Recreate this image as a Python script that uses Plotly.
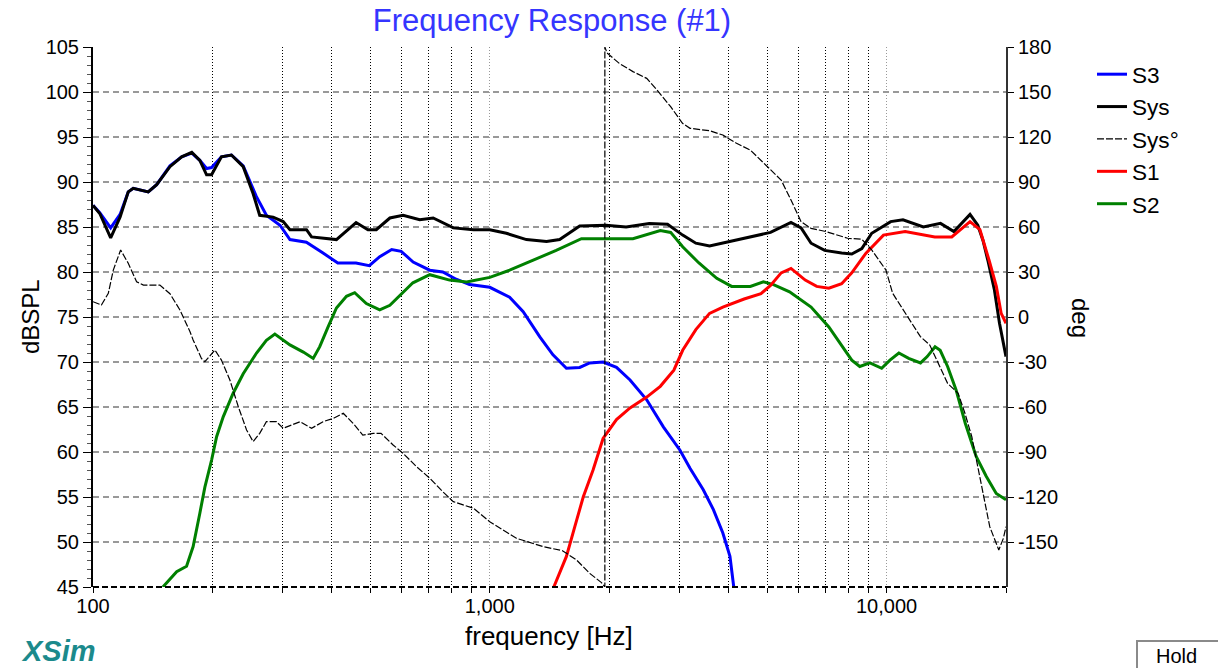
import plotly.graph_objects as go

# ---------------- data ----------------
sys_f = [100, 104, 110.8, 117, 122.7, 126.3, 137.8, 144.7, 156.3, 167.3, 177.4, 185.9, 193.3, 199,
         210.7, 223.3, 239.1, 253.3, 263.1, 284.4, 301.5, 313.6, 345.2, 355.5, 410.7, 460.3, 493,
         517.6, 560, 604.7, 665.9, 720, 809.4, 909.6, 1000, 1101, 1237, 1390, 1500, 1685, 1963,
         2206, 2523, 2805, 3063, 3306, 3580, 4030, 4536, 5100, 5743, 6090, 6453, 6981, 7706, 8172,
         8663, 9175, 10242, 11000, 12380, 13676, 14785, 16230, 16980, 17500, 18000, 18700, 19260, 20000]
sys_db = [87.4, 86.5, 83.8, 86.1, 88.9, 89.3, 88.9, 89.7, 91.7, 92.8, 93.3, 92.4, 90.8, 90.8,
          92.8, 93.0, 91.7, 88.7, 86.3, 86.1, 85.6, 84.7, 84.7, 83.9, 83.6, 85.5, 84.7,
          84.7, 86.0, 86.3, 85.8, 86.0, 84.9, 84.7, 84.7, 84.3, 83.6, 83.4, 83.6, 85.1, 85.2,
          85.0, 85.4, 85.3, 84.1, 83.2, 82.9, 83.4, 83.9, 84.4, 85.5, 84.9, 83.2, 82.4, 82.1, 82.0,
          82.6, 84.3, 85.6, 85.8, 85.0, 85.4, 84.5, 86.4, 85.2, 83.5, 81.3, 78.0, 74.3, 70.6]

s3_f = [100, 104, 110.8, 117, 122.7, 126.3, 137.8, 144.7, 156.3, 167.3, 177.4, 185.9, 193.3, 199,
        210.7, 223.3, 239.1, 258, 273.5, 296, 313.6, 345, 380, 414, 460, 497, 528, 566, 598, 641,
        706, 761, 823, 889, 1000, 1122, 1214, 1337, 1443, 1560, 1685, 1786, 1930, 2086, 2257,
        2486, 2738, 3016, 3196, 3452, 3661, 3867, 4030, 4109, 4120]
s3_db = [87.4, 86.6, 84.9, 86.4, 88.9, 89.3, 88.9, 89.7, 91.8, 92.8, 93.2, 92.4, 91.5, 91.6,
         92.8, 93.0, 91.8, 88.4, 86.3, 85.2, 83.6, 83.3, 82.1, 81.0, 81.0, 80.7, 81.7, 82.5, 82.3, 81.1,
         80.2, 80.0, 79.2, 78.6, 78.3, 77.2, 75.6, 72.8, 70.8, 69.3, 69.4, 69.9, 70.0, 69.4, 68.0,
         65.8, 62.8, 60.2, 58.2, 55.8, 53.6, 51.0, 48.4, 45.4, 45.0]

s1_f = [1450, 1560, 1638, 1720, 1821, 1930, 2086, 2257, 2486, 2690, 2910, 3063, 3306, 3580, 3867,
        4376, 4825, 5100, 5424, 5743, 6238, 6666, 7153, 7706, 8172, 8875, 9822, 11140, 13230,
        14600, 16230, 17190, 18130, 18910, 19450, 20000]
s1_db = [45.0, 48.4, 51.7, 55.0, 58.0, 61.5, 63.6, 64.9, 66.1, 67.3, 69.1, 71.3, 73.6, 75.4, 76.1,
         77.0, 77.6, 78.5, 79.9, 80.4, 79.1, 78.4, 78.2, 78.7, 79.9, 82.1, 84.1, 84.5, 83.9,
         83.9, 85.6, 84.7, 81.3, 78.4, 75.4, 74.3]

s2_f = [150, 162.5, 172.1, 178.8, 185.9, 191.4, 199, 204.9, 212.9, 225.4, 239.1, 258.3, 273.5,
        287.3, 313.6, 338.9, 358.9, 372.8, 391.3, 410.7, 435.3, 456.6, 488.6, 528, 560, 582,
        604.7, 640, 706, 792, 874, 1000, 1122, 1290, 1470, 1702, 1963, 2295, 2690, 2857, 3063,
        3366, 3733, 4070, 4536, 4893, 5190, 5695, 6453, 7153, 8172, 8560, 9080, 9720, 10200,
        10740, 11370, 12180, 12660, 13250, 13650, 14250, 14970, 15790, 16820, 17830, 18900, 20000]
s2_db = [45.0, 46.7, 47.3, 49.5, 53.2, 56.1, 59.1, 61.7, 63.9, 66.5, 68.7, 71.0, 72.4,
         73.1, 71.9, 71.1, 70.4, 71.7, 73.9, 76.0, 77.3, 77.7, 76.5, 75.8, 76.3, 77.0,
         77.8, 78.8, 79.7, 79.1, 78.9, 79.4, 80.2, 81.3, 82.4, 83.7, 83.7, 83.7, 84.6, 84.4, 82.8,
         81.0, 79.3, 78.4, 78.4, 78.9, 78.6, 77.8, 76.1, 73.9, 70.2, 69.5, 69.9, 69.3, 70.2,
         71.0, 70.4, 69.9, 70.6, 71.7, 71.3, 69.5, 66.9, 63.2, 59.5, 57.3, 55.4, 54.7]

ph_f = [100, 105, 109.3, 112.5, 117.4, 122.7, 128.8, 134, 147.4, 156.3, 165.6, 168.7, 175.6, 178.8,
        187.6, 191.4, 202.9, 210.7, 221.3, 232.4, 243.8, 253.3, 263.1, 273.5, 290, 301.5, 332.6,
        355.5, 380, 403.9, 427.4, 452.4, 478.6, 508.4, 532, 570.6, 604.7, 654, 706, 761, 809, 910,
        1000, 1167, 1364, 1525, 1655, 1786, 1912, 1950, 1950, 1975, 2120, 2295, 2486, 2640, 2857,
        3060, 3196, 3580, 3867, 4186, 4536, 5009, 5424, 5743, 6090, 6453, 7050, 7980, 8663, 9175,
        9964, 10360, 11140, 12170, 12850, 13500, 14250, 15150, 15760, 16400, 16900, 17620, 18200,
        19180, 19700, 20000]
ph_deg = [10.2, 8.0, 15.8, 31.3, 44.7, 35.8, 23.5, 21.3, 21.3, 15.5, 4.7, 0.2, -9.8, -15.3,
          -27.6, -29.8, -22, -28.7, -42, -59.8, -75.3, -83.1, -77.6, -69.8, -69.8, -74.2, -69.8,
          -74.2, -69.8, -67.5, -64.2, -70.9, -78.7, -77.6, -77.6, -85.3, -90.9, -99.8, -107.5, -116.4, -123.1, -127.5,
          -136.5, -147.5, -153.1, -155.8, -162, -170.9, -177.1, -180, 180, 176, 169.1, 163.6, 159.1, 151.3, 140.2,
          129.1, 125.8, 124.2, 121.3, 115.8, 111.3, 100.2, 91.3, 78, 63.5, 59.1, 56.9, 52.5, 51.8, 44.7,
          31.3, 15.8, 2.5, -13.1, -18.7, -30.9, -44.2, -50.9, -64.2, -79.8, -97.5, -119.8, -139.8,
          -155.3, -147.5, -139.8]

x_tickvals = [100, 1000, 10000]
x_ticktext = ["100", "1,000", "10,000"]
x_minor = [200, 300, 400, 500, 600, 700, 800, 900,
           2000, 3000, 4000, 5000, 6000, 7000, 8000, 9000, 20000]
y2_tickvals = [-150, -120, -90, -60, -30, 0, 30, 60, 90, 120, 150, 180]
y2_ticktext = ["-150", "-120", "-90", "-60", "-30", "0", "30", "60", "90", "120", "150", "180"]

FONT = "Liberation Sans, Arial, sans-serif"

fig = go.Figure()
fig.add_trace(go.Scatter(x=s3_f, y=s3_db, name="S3", mode="lines",
                         line=dict(color="#0000ff", width=3), legendrank=1))
fig.add_trace(go.Scatter(x=s2_f, y=s2_db, name="S2", mode="lines",
                         line=dict(color="#008000", width=3), legendrank=5))
fig.add_trace(go.Scatter(x=ph_f, y=ph_deg, name="Sys°", mode="lines", yaxis="y2",
                         line=dict(color="#000000", width=1.2, dash="7px,2px"), legendrank=3))
fig.add_trace(go.Scatter(x=sys_f, y=sys_db, name="Sys", mode="lines",
                         line=dict(color="#000000", width=3), legendrank=2))
fig.add_trace(go.Scatter(x=s1_f, y=s1_db, name="S1", mode="lines",
                         line=dict(color="#ff0000", width=3), legendrank=4))

W, H = 1218, 668
L, R, T, B = 93, 212, 47, 81
pw, ph = W - L - R, H - T - B

def px(x):
    return (x - L) / pw

def py(y):
    return (H - B - y) / ph

fig.update_layout(
    width=W, height=H, autosize=False,
    margin=dict(l=L, r=R, t=T, b=B, pad=0),
    paper_bgcolor="white", plot_bgcolor="white",
    hovermode=False,
    font=dict(family=FONT, size=20, color="#000"),
    title=dict(text="Frequency Response (#1)", font=dict(family=FONT, size=31, color="#3535ff"),
               x=px(552), xref="paper", xanchor="center", y=1 - 20 / H, yref="container", yanchor="middle"),
    showlegend=True,
    legend=dict(x=px(1092), y=py(53), xanchor="left", yanchor="top",
                font=dict(family=FONT, size=22.6, color="#000"), bgcolor="rgba(0,0,0,0)",
                borderwidth=0, traceorder="normal"),
    xaxis=dict(type="log", range=[2, 4.30103], tickvals=x_tickvals, ticktext=x_ticktext,
               showgrid=True, gridcolor="#999", griddash="1px,2px", gridwidth=1,
               ticks="outside", ticklen=5, tickcolor="#000", showline=False, zeroline=False,
               ticklabelstandoff=-4,
               tickfont=dict(family=FONT, size=20, color="#000"),
               minor=dict(tickvals=x_minor, showgrid=True, gridcolor="#000", griddash="1px,2px",
                          gridwidth=1, ticks="outside", ticklen=5, tickcolor="#000")),
    yaxis=dict(range=[45, 105], tick0=45, dtick=5, showgrid=True, gridcolor="#999",
               griddash="6px,4px", gridwidth=2, zeroline=False,
               showline=True, linecolor="#000", linewidth=2,
               ticks="outside", ticklen=8, tickcolor="#000",
               tickfont=dict(family=FONT, size=20, color="#000"),
               minor=dict(dtick=1, ticks="outside", ticklen=4, tickcolor="#555", showgrid=False)),
    yaxis2=dict(range=[-180, 180], overlaying="y", side="right", tickvals=y2_tickvals,
                ticktext=y2_ticktext, showgrid=False, zeroline=False,
                showline=True, linecolor="#333", linewidth=2,
                ticks="outside", ticklen=6, tickcolor="#000",
                tickfont=dict(family=FONT, size=20, color="#000")),
    shapes=[
        dict(type="line", xref="paper", yref="paper", x0=0, x1=1, y0=0, y1=0,
             line=dict(color="#000", width=2, dash="6px,3px")),
        dict(type="rect", xref="paper", yref="paper", x0=px(1137), x1=px(1230), y0=py(641), y1=py(680),
             line=dict(color="#8a8a8a", width=2), fillcolor="white"),
    ],
    annotations=[
        dict(text="dBSPL", textangle=-90, x=px(30), y=py(316), xref="paper", yref="paper",
             showarrow=False, font=dict(family=FONT, size=24, color="#000"), xanchor="center", yanchor="middle"),
        dict(text="deg", textangle=90, x=px(1080), y=py(318), xref="paper", yref="paper",
             showarrow=False, font=dict(family=FONT, size=24, color="#000"), xanchor="center", yanchor="middle"),
        dict(text="frequency [Hz]", x=px(549), y=py(636), xref="paper", yref="paper",
             showarrow=False, font=dict(family=FONT, size=26, color="#000"), xanchor="center", yanchor="middle"),
        dict(text="<b><i>XSim</i></b>", x=px(19), y=py(651), xref="paper", yref="paper",
             showarrow=False, font=dict(family=FONT, size=29, color="#1b8a8c"), xanchor="left", yanchor="middle"),
        dict(text="Hold", x=px(1176), y=py(656), xref="paper", yref="paper",
             showarrow=False, font=dict(family=FONT, size=20, color="#000"), xanchor="center", yanchor="middle"),
    ],
)

fig.write_html("out.html", config={"displayModeBar": False},
               post_script="document.body.style.margin='0';document.body.style.overflow='hidden';")
